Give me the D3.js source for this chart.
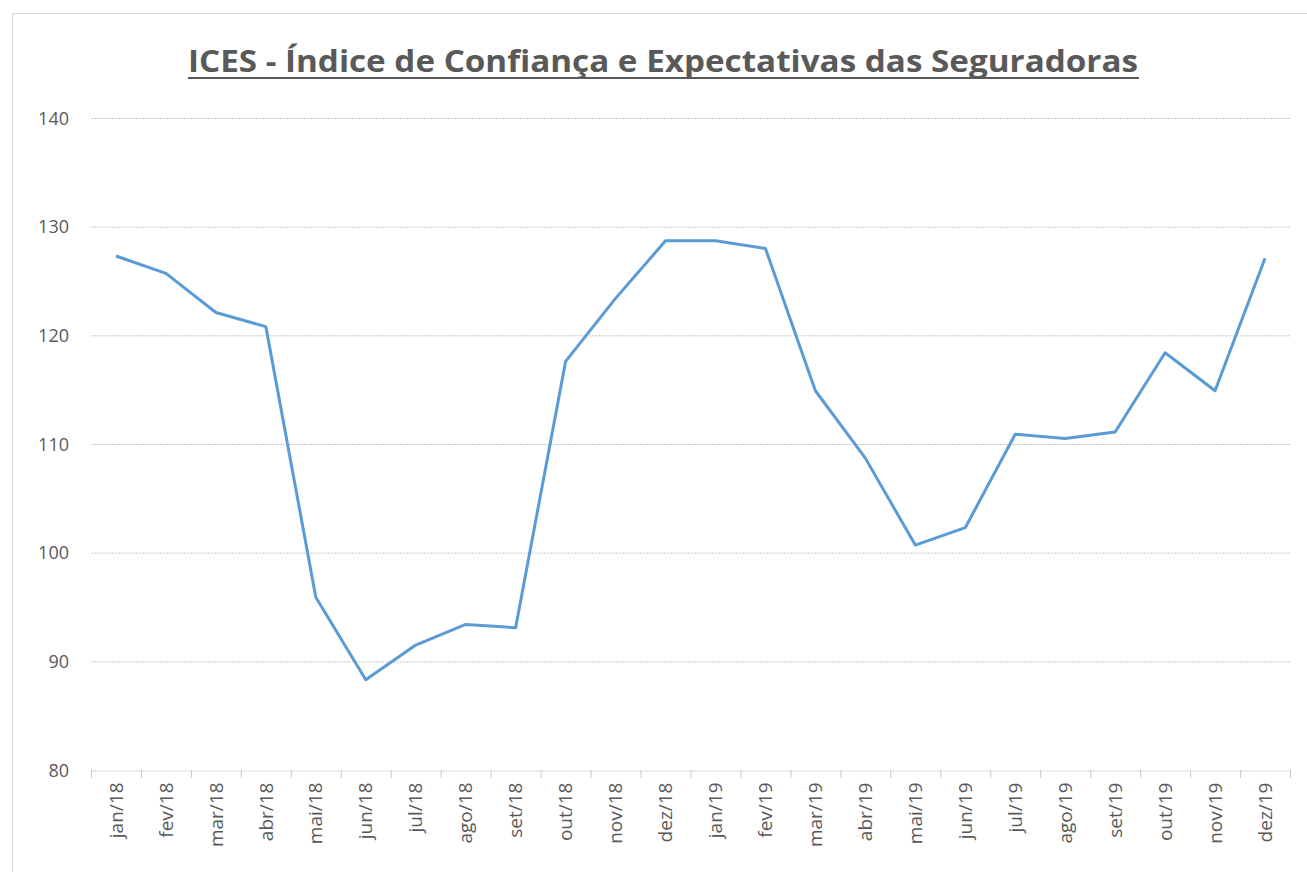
<!DOCTYPE html>
<html>
<head>
<meta charset="utf-8">
<script src="https://cdn.jsdelivr.net/npm/d3@7"></script>
<style>
  body { margin: 0; background: #fff; }
  text { font-family: "Liberation Sans Narrow", "Open Sans", sans-serif; fill: #595959; }
</style>
</head>
<body>
<svg id="chart" width="1307" height="872"></svg>
<script>
// meses
let months = ["jan/18", "fev/18", "mar/18", "abr/18", "mai/18", "jun/18", "jul/18", "ago/18", "set/18", "out/18", "nov/18", "dez/18",
              "jan/19", "fev/19", "mar/19", "abr/19", "mai/19", "jun/19", "jul/19", "ago/19", "set/19", "out/19", "nov/19", "dez/19"];
// valores do ICES
let ices = [127.3, 125.7, 122.1, 120.8, 95.9, 88.3, 91.5, 93.4, 93.1, 117.6, 123.4, 128.7,
            128.7, 128.0, 114.9, 108.7, 100.7, 102.3, 110.9, 110.5, 111.1, 118.4, 114.9, 127.1];
let yTicks = [80, 90, 100, 110, 120, 130, 140];

let plotLeft = 91, plotRight = 1290, plotTop = 118, plotBottom = 770;

let svg = d3.select("#chart");

// moldura
svg.append("rect")
    .attr("x", 12.5).attr("y", 13.5)
    .attr("width", 1300).attr("height", 870)
    .attr("fill", "none")
    .attr("stroke", "#d9d9d9");

let x = d3.scaleBand().domain(months).range([plotLeft, plotRight]);
let y = d3.scaleLinear().domain([80, 140]).range([plotBottom, plotTop]);

// grade
svg.append("g")
    .selectAll("line")
    .data(yTicks.slice(1))
    .enter()
    .append("line")
    .attr("x1", plotLeft).attr("x2", plotRight)
    .attr("y1", d => y(d) + 0.5).attr("y2", d => y(d) + 0.5)
    .attr("stroke", "#c8c8c8")
    .attr("stroke-dasharray", "2,1");

// eixo y
let yAxis = svg.append("g")
    .attr("transform", "translate(" + (plotLeft - 22) + ",0)")
    .call(d3.axisLeft(y).tickValues(yTicks).tickSize(0).tickPadding(0));
yAxis.select(".domain").remove();
yAxis.selectAll("text")
    .style("font-size", "18px")
    .attr("dy", "0.35em");

// eixo x
let xAxis = svg.append("g")
    .attr("transform", "translate(0," + (plotBottom + 0.5) + ")")
    .call(d3.axisBottom(x).tickSize(0));
xAxis.select(".domain").attr("stroke", "#c8c8c8").attr("stroke-dasharray", "2,1");
xAxis.selectAll("text")
    .style("font-size", "19px")
    .attr("transform", "rotate(-90)")
    .attr("text-anchor", "end")
    .attr("x", -12)
    .attr("y", 0)
    .attr("dy", "0.35em");

// marcas entre categorias
svg.append("g")
    .selectAll("line")
    .data(months.concat(["end"]))
    .enter()
    .append("line")
    .attr("x1", (d, i) => plotLeft + i * x.step() + 0.5)
    .attr("x2", (d, i) => plotLeft + i * x.step() + 0.5)
    .attr("y1", plotBottom)
    .attr("y2", plotBottom + 8)
    .attr("stroke", "#c8c8c8");

// linha
let line = d3.line()
    .x((d, i) => x(months[i]) + x.bandwidth() / 2)
    .y(d => y(d));

svg.append("path")
    .datum(ices)
    .attr("fill", "none")
    .attr("stroke", "#5b9bd5")
    .attr("stroke-width", 3)
    .attr("stroke-linejoin", "round")
    .attr("d", line);

// titulo
svg.append("text")
    .attr("x", 663)
    .attr("y", 72)
    .attr("text-anchor", "middle")
    .attr("textLength", 950)
    .attr("lengthAdjust", "spacingAndGlyphs")
    .style("font-size", "31px")
    .style("font-weight", "bold")
    .text("ICES - Índice de Confiança e Expectativas das Seguradoras");

svg.append("line")
    .attr("x1", 188).attr("x2", 1139)
    .attr("y1", 78).attr("y2", 78)
    .attr("stroke", "#595959")
    .attr("stroke-width", 2);
</script>
</body>
</html>
